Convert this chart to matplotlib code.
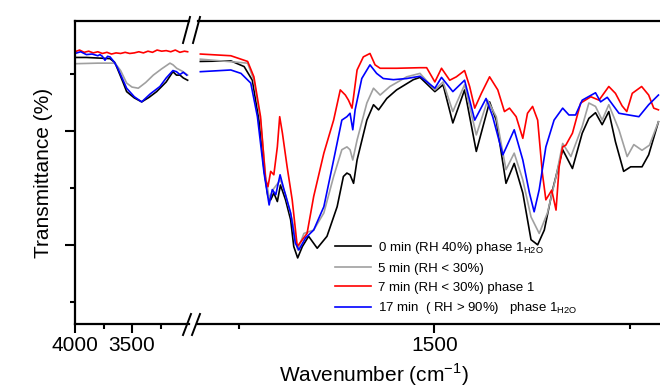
import matplotlib.pyplot as plt
from matplotlib.lines import Line2D
from matplotlib.ticker import FixedLocator, MultipleLocator

plt.rcParams['font.family'] = ['Liberation Sans', 'DejaVu Sans']

# ---- left panel (4000 - 3000 cm-1) ----
black_l_wn = [4000, 3900, 3800, 3693, 3650, 3623, 3580, 3547, 3480, 3415, 3350, 3284, 3200, 3141, 3110, 3079, 3050, 3012]
black_l_t = [52.9, 52.9, 52.8, 52.7, 52.0, 50.7, 48.6, 46.9, 45.8, 45.1, 45.9, 46.9, 48.6, 50.4, 49.8, 49.8, 49.3, 48.9]

gray_l_wn = [4000, 3800, 3649, 3600, 3547, 3500, 3445, 3380, 3313, 3240, 3167, 3140, 3108, 3060, 3012]
gray_l_t = [51.8, 51.9, 51.9, 50.6, 48.4, 47.7, 47.5, 48.5, 49.8, 50.9, 51.9, 51.6, 51.0, 50.5, 49.8]

red_l_wn = [4000, 3960, 3920, 3880, 3840, 3800, 3760, 3720, 3680, 3640, 3600, 3560, 3520,
            3480, 3440, 3400, 3360, 3320, 3280, 3240, 3200, 3160, 3120, 3080, 3040, 3012]
red_l_t = [53.9, 54.2, 53.8, 54.0, 53.7, 53.9, 53.6, 53.8, 53.5, 53.7, 53.6, 53.8, 53.6,
           53.7, 53.9, 53.7, 54.0, 53.8, 54.2, 54.0, 54.1, 53.9, 54.2, 53.8, 54.0, 53.9]

blue_l_wn = [4000, 3950, 3900, 3850, 3800, 3781, 3760, 3737, 3715, 3693, 3660, 3630, 3605, 3547,
             3480, 3415, 3340, 3255, 3200, 3141, 3110, 3080, 3050, 3020]
blue_l_t = [53.6, 53.9, 53.4, 53.5, 53.2, 53.4, 53.1, 52.4, 53.1, 53.0, 52.2, 51.2, 50.1, 47.5,
            46.0, 45.1, 46.5, 47.8, 49.3, 50.6, 50.4, 49.9, 50.3, 49.8]

# ---- right panel (2100 - 925 cm-1) ----
black_r_wn = [2099, 2021, 1987, 1966, 1949, 1936, 1926, 1919, 1911, 1902, 1894, 1881, 1868, 1860, 1850,
              1838, 1822, 1800, 1775, 1749, 1733, 1724, 1716, 1707, 1698, 1673, 1656, 1643, 1622, 1597,
              1554, 1537, 1499, 1478, 1453, 1423, 1393, 1359, 1342, 1317, 1296, 1274, 1253, 1236, 1219,
              1198, 1172, 1147, 1122, 1105, 1088, 1071, 1054, 1037, 1016, 998, 969, 952, 927]
black_r_t = [52.2, 52.3, 51.3, 48.9, 41.9, 33.2, 28.5, 27.9, 29.1, 27.6, 30.5, 27.9, 24.4, 19.7, 17.7,
             19.7, 21.5, 19.4, 21.5, 26.7, 32.0, 32.6, 32.3, 30.8, 34.9, 41.9, 44.6, 43.7, 45.7, 47.2,
             49.0, 49.4, 46.9, 48.1, 41.4, 47.2, 36.4, 45.1, 41.9, 30.8, 34.3, 29.1, 20.9, 20.0, 22.6,
             29.6, 36.7, 33.4, 39.6, 42.2, 43.2, 41.1, 43.4, 38.1, 32.9, 33.7, 33.7, 35.8, 41.6]

gray_r_wn = [2099, 1978, 1962, 1945, 1932, 1923, 1911, 1894, 1881, 1864, 1850, 1834, 1809, 1783, 1758,
             1737, 1724, 1716, 1709, 1698, 1673, 1656, 1639, 1614, 1571, 1537, 1499, 1478, 1453, 1423,
             1393, 1364, 1342, 1317, 1296, 1274, 1253, 1232, 1211, 1189, 1172, 1151, 1122, 1105, 1088,
             1071, 1054, 1028, 1007, 990, 969, 950, 927]
gray_r_t = [52.6, 51.9, 48.9, 41.9, 32.0, 28.2, 29.9, 31.4, 28.8, 24.4, 19.1, 22.0, 22.6, 25.6, 32.0,
            36.7, 37.2, 36.7, 34.9, 38.4, 44.9, 47.5, 46.3, 47.8, 49.5, 50.1, 47.2, 48.6, 43.4, 48.1,
            39.3, 45.4, 42.5, 33.2, 36.1, 31.4, 24.9, 22.0, 25.6, 32.0, 37.8, 35.5, 40.8, 44.9, 44.3,
            41.9, 44.6, 40.2, 35.5, 37.6, 36.6, 37.5, 41.6]

red_r_wn = [2099, 2021, 1978, 1962, 1945, 1932, 1926, 1919, 1911, 1902, 1896, 1889, 1877, 1864, 1851,
            1838, 1826, 1809, 1783, 1758, 1741, 1728, 1720, 1711, 1707, 1698, 1682, 1665, 1652, 1639,
            1597, 1537, 1520, 1499, 1482, 1461, 1444, 1423, 1410, 1397, 1380, 1359, 1338, 1321, 1308,
            1291, 1274, 1262, 1249, 1236, 1224, 1215, 1207, 1200, 1189, 1181, 1172, 1164, 1147, 1126,
            1100, 1079, 1054, 1037, 1020, 1008, 994, 970, 952, 939, 927]
red_r_t = [53.5, 53.2, 52.2, 49.5, 42.5, 31.4, 30.2, 32.9, 32.3, 37.2, 42.5, 39.6, 33.7, 27.9, 19.7,
           20.9, 22.0, 28.5, 36.1, 41.9, 47.2, 46.3, 45.4, 44.0, 46.0, 50.7, 53.0, 53.6, 51.6, 51.0,
           51.0, 51.1, 51.1, 48.6, 51.0, 48.9, 49.5, 50.6, 47.8, 44.0, 46.6, 49.5, 47.2, 43.4, 44.0,
           42.5, 38.7, 43.1, 44.3, 41.9, 32.6, 27.9, 28.8, 29.6, 26.1, 33.7, 37.2, 37.5, 39.6, 44.9,
           46.0, 45.4, 47.8, 46.6, 44.4, 43.4, 46.6, 47.8, 46.3, 44.0, 43.7]

blue_r_wn = [2099, 2021, 1995, 1970, 1953, 1936, 1923, 1915, 1906, 1895, 1885, 1868, 1856, 1847, 1830,
             1809, 1783, 1758, 1737, 1724, 1716, 1709, 1703, 1686, 1665, 1648, 1631, 1605, 1571, 1537,
             1499, 1482, 1453, 1423, 1397, 1368, 1351, 1325, 1296, 1274, 1257, 1245, 1232, 1215, 1194,
             1172, 1156, 1139, 1122, 1088, 1075, 1058, 1028, 1003, 977, 952, 927]
blue_r_t = [50.4, 50.7, 50.1, 48.4, 42.5, 32.6, 27.0, 29.7, 28.8, 32.3, 29.7, 25.6, 20.3, 19.1, 21.2,
            22.6, 26.7, 34.9, 41.9, 42.5, 43.1, 40.2, 43.7, 49.2, 51.6, 50.1, 49.2, 49.0, 49.2, 49.6,
            47.5, 49.4, 46.9, 48.9, 41.9, 45.7, 42.5, 35.8, 40.2, 34.9, 29.1, 25.8, 29.7, 37.2, 41.9,
            44.0, 42.8, 42.8, 45.4, 46.7, 45.1, 45.9, 43.1, 42.8, 42.5, 44.6, 46.3]

labels = ['0 min (RH 40%) phase 1$_\\mathregular{H2O}$',
          '5 min (RH < 30%)',
          '7 min (RH < 30%) phase 1',
          '17 min  ( RH > 90%)   phase 1$_\\mathregular{H2O}$']
colors = ['black', '#a0a0a0', '#ff0000', '#0000ff']

W, H = 660, 387


def box(x0, y0, x1, y1):
    return [x0 / W, 1 - y1 / H, (x1 - x0) / W, (y1 - y0) / H]


fig = plt.figure(figsize=(6.6, 3.87), dpi=100)
ax1 = fig.add_axes(box(75, 21, 189, 324))
ax2 = fig.add_axes(box(198, 21, 660, 324), sharey=ax1)

lw = 1.2
left = [(black_l_wn, black_l_t), (gray_l_wn, gray_l_t), (red_l_wn, red_l_t), (blue_l_wn, blue_l_t)]
right = [(black_r_wn, black_r_t), (gray_r_wn, gray_r_t), (red_r_wn, red_r_t), (blue_r_wn, blue_r_t)]
for (x, y), c in zip(left, colors):
    ax1.plot(x, y, color=c, lw=lw)
handles = []
for (x, y), c in zip(right, colors):
    h, = ax2.plot(x, y, color=c, lw=lw)
    handles.append(h)

ax1.set_xlim(4000, 3000)
ax2.set_xlim(2105, 923)
ax1.set_ylim(6.1, 59.3)

ax1.xaxis.set_major_locator(FixedLocator([4000, 3500]))
ax1.xaxis.set_minor_locator(FixedLocator([3750, 3250]))
ax2.xaxis.set_major_locator(FixedLocator([1500]))
ax2.xaxis.set_minor_locator(FixedLocator([2000, 1000]))
ax1.yaxis.set_major_locator(MultipleLocator(20))
ax1.yaxis.set_minor_locator(MultipleLocator(10))

for ax in (ax1, ax2):
    for s in ax.spines.values():
        s.set_linewidth(1.6)
    ax.spines['right'].set_visible(False)
    ax.tick_params(which='major', length=6.5, width=1.5, labelsize=15, pad=2)
    ax.tick_params(which='minor', length=3.5, width=1.5)
ax2.spines['left'].set_visible(False)
ax2.tick_params(axis='y', which='both', left=False, labelleft=False)
ax1.tick_params(axis='y', which='both', labelleft=False)
ax1.tick_params(axis='y', which='major', length=7.5)

ax1.set_ylabel('Transmittance (%)', fontsize=15, labelpad=8)
fig.text(374 / W, 1 - 375 / H, 'Wavenumber (cm$^\\mathregular{-1}$)', fontsize=15,
         ha='center', va='center')

# axis break marks
for (xa, ya, xb, yb) in [(183, 43, 190, 17), (193, 43, 200, 17),
                         (183, 335, 191, 314), (192, 335, 200, 314)]:
    fig.add_artist(Line2D([xa / W, xb / W], [1 - ya / H, 1 - yb / H],
                          transform=fig.transFigure, color='black', lw=1.4))

ax2.legend(handles, labels, loc='upper left', bbox_to_anchor=(335 / W, 1 - 240 / H),
           bbox_transform=fig.transFigure, frameon=False, fontsize=9.5,
           handlelength=2.7, handletextpad=0.55, labelspacing=0.5,
           borderpad=0, borderaxespad=0)

fig.savefig('out.png', dpi=100)
